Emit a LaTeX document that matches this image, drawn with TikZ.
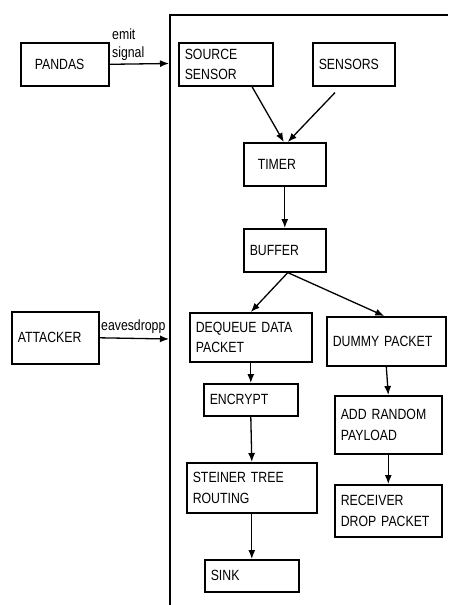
\documentclass[tikz,border=0pt]{standalone}
\usepackage{fontspec}
\setmainfont[FakeStretch=0.83]{Liberation Sans}
\usetikzlibrary{arrows.meta,calc}
\begin{document}
\begin{tikzpicture}[x=1pt,y=-1pt,
  every node/.style={font=\fontsize{14.8}{20.5}\selectfont},
  box/.style={draw,line width=1.6pt,anchor=north west,align=left,inner xsep=6pt,inner ysep=0pt},
  conn/.style={line width=1.3pt,-{Latex[length=9pt,width=7pt]}},
  lbl/.style={inner sep=1pt,align=left}]
\useasboundingbox (0,0) rectangle (448,605);
\fill[white] (0,0) rectangle (448,605);
% frame
\draw[line width=1.6pt] (170,605) -- (170,15) -- (448,15);
\coordinate (fp) at (169,63.5);
\coordinate (fa) at (169,339);
% nodes
\node[box,text width=76pt,minimum height=43pt] (pandas) at (20,42) {\hspace*{8pt}PANDAS};
\node[box,text width=75pt,minimum height=52pt] (att) at (11,311) {ATTACKER};
\node[box,text width=82pt,minimum height=43pt] (src) at (178,42) {SOURCE\\SENSOR};
\node[box,text width=70pt,minimum height=43pt] (sens) at (312,42) {SENSORS};
\node[box,text width=70pt,minimum height=43pt] (timer) at (243,142) {\hspace*{8pt}TIMER};
\node[box,text width=70pt,minimum height=43pt] (buf) at (243,228) {BUFFER};
\node[box,text width=110pt,minimum height=49pt] (deq) at (189,312) {DEQUEUE DATA\\PACKET};
\node[box,text width=107pt,minimum height=49pt] (dum) at (326,316) {DUMMY PACKET};
\node[box,text width=82pt,minimum height=32pt] (enc) at (203,383) {ENCRYPT};
\node[box,text width=95pt,minimum height=58pt] (add) at (334,395) {ADD RANDOM\\PAYLOAD};
\node[box,text width=118pt,minimum height=50pt] (st) at (186,462) {STEINER TREE\\ROUTING};
\node[box,text width=95pt,minimum height=52pt] (rec) at (334,484) {RECEIVER\\DROP PACKET};
\node[box,text width=82pt,minimum height=32pt] (sink) at (204,559) {SINK};
% labels
\node[lbl,anchor=south west,font=\fontsize{14.8}{18}\selectfont] (l1) at (111,62) {emit\\signal};
\node[lbl,anchor=base west] (l2) at (100,330) {eavesdropp};
% connectors
\draw[conn] (pandas.east) -- (fp);
\draw[conn] (att.east) -- (fa);
\draw[conn] ($(src.south west)+(74,0)$) -- ($(timer.north)+(-1,0)$);
\draw[conn] ($(sens.south west)+(23,6)$) -- ($(timer.north)+(3,0)$);
\draw[conn] (timer.south) -- (buf.north);
\draw[conn] ($(buf.south)+(3,0)$) -- (deq.north);
\draw[conn] ($(buf.south)+(3,0)$) -- ($(dum.north)+(-2,0)$);
\draw[conn] (deq.south) -- (enc.north);
\draw[conn] (enc.south) -- (st.north);
\draw[conn] (st.south) -- (sink.north);
\draw[conn] (dum.south) -- (add.north);
\draw[conn] (add.south) -- (rec.north);
\end{tikzpicture}
\end{document}
